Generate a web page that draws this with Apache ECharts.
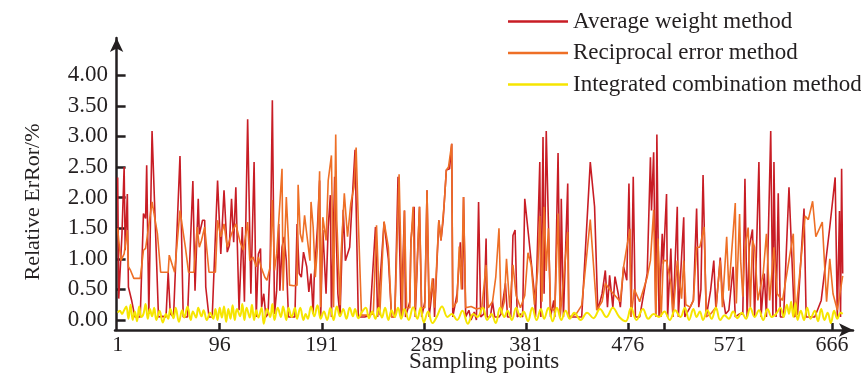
<!DOCTYPE html>
<html>
<head>
<meta charset="utf-8">
<script src="https://cdn.jsdelivr.net/npm/echarts@6.0.0/dist/echarts.min.js"></script>
<style>
  html, body { margin: 0; padding: 0; background: #fff; }
  #chart-container { width: 861px; height: 373px; }
</style>
</head>
<body>
<div id="chart-container"></div>
<script>
  // tick labels and tick marks
  var xTickLabels = [1, 96, 191, 289, 381, 476, 571, 666];
  var xTickMarks = [96, 191, 286, 381, 476, 510, 666];
  var yTickLabels = [0, 0.5, 1, 1.5, 2, 2.5, 3, 3.5, 4];

  var seriesNames = ['Average weight method', 'Reciprocal error method', 'Integrated combination method'];

  // [sampling point, relative error %]
  var averageWeight = [
    [1, 2.33], [2, 0.35], [5, 1.41], [7, 2.5], [8, 1.14], [10, 2.06], [11, 0.54], [14, 0.32], [17, 0.05], [22, 0.05],
    [25, 1.74], [27, 1.66], [28, 2.53], [30, 0.1], [33, 3.09], [39, 0.05], [43, 0.06], [46, 0.05], [48, 0.78], [50, 0.1],
    [53, 0.05], [59, 2.68], [62, 0.05], [66, 0.05], [71, 2.27], [73, 0.48], [76, 1.98], [77, 1.4], [80, 1.63], [82, 1.63],
    [83, 0.54], [86, 0.05], [89, 0.05], [94, 2.28], [97, 1.08], [100, 2.12], [103, 1.11], [105, 1.22], [107, 1.98], [109, 1.27],
    [111, 2.17], [114, 0.16], [117, 1.52], [119, 0.3], [122, 3.28], [125, 0.43], [128, 2.58], [130, 0.05], [132, 1.08],
    [134, 1.17], [135, 0.21], [137, 0.43], [139, 0.05], [141, 0.1], [143, 0.97], [145, 3.59], [147, 0.1], [149, 0.48], [151, 1.57],
    [152, 0.48], [154, 1.19], [156, 1.36], [158, 0.97], [160, 0.05], [166, 0.05], [168, 1.57], [170, 0.76], [172, 0.7], [174, 1.11],
    [177, 0.87], [179, 0.46], [181, 0.76], [183, 0.1], [184, 0.7], [187, 1.52], [189, 2.28], [190, 0.05], [192, 1.47], [195, 0.43],
    [197, 1.52], [199, 2.04], [200, 0.05], [203, 2.34], [206, 0.43], [208, 0.05], [211, 1.8], [213, 0.97], [217, 1.19], [220, 2.17],
    [222, 2.78], [225, 0.05], [231, 0.05], [236, 0.08], [241, 1.52], [243, 0.05], [249, 1.6], [253, 1.0], [256, 0.05], [259, 0.05],
    [262, 2.34], [265, 0.05], [268, 1.79], [269, 0.05], [273, 0.3], [274, 1.3], [275, 1.3], [277, 1.85], [278, 0.05], [282, 1.85],
    [284, 0.05], [287, 0.3], [289, 2.12], [291, 0.05], [295, 0.68], [296, 0.05], [300, 1.63], [302, 1.3], [304, 1.63], [307, 2.45],
    [310, 2.47], [312, 2.88], [313, 0.05], [317, 0.43], [320, 1.27], [322, 0.5], [323, 2.01], [325, 0.05], [328, 0.16], [330, 0.0],
    [333, 0.13], [335, 0.0], [337, 1.93], [339, 0.05], [342, 0.1], [344, 1.33], [345, 0.05], [348, 0.05], [350, 0.3], [352, 0.05],
    [356, 0.05], [358, 0.1], [362, 0.6], [364, 0.05], [367, 0.05], [369, 1.38], [371, 1.47], [373, 0.05], [376, 0.1], [378, 0.05],
    [380, 1.98], [384, 1.3], [389, 0.43], [390, 0.05], [394, 2.58], [395, 0.05], [397, 2.99], [398, 0.43], [400, 3.09], [402, 1.6],
    [404, 0.05], [407, 0.32], [408, 0.05], [411, 2.73], [413, 0.05], [414, 1.98], [416, 0.05], [420, 2.23], [421, 0.05], [428, 0.05],
    [433, 0.05], [441, 2.58], [445, 1.85], [448, 0.16], [452, 0.43], [455, 0.81], [457, 0.21], [459, 0.73], [462, 0.21], [464, 0.71],
    [467, 0.43], [469, 0.21], [472, 0.87], [475, 0.65], [477, 2.23], [479, 0.05], [481, 2.34], [483, 0.05], [487, 0.05], [494, 0.76],
    [497, 2.66], [498, 1.79], [500, 2.74], [502, 0.05], [503, 3.03], [505, 0.05], [508, 1.41], [509, 0.92], [512, 2.06], [513, 0.05],
    [516, 1.17], [518, 0.05], [522, 1.85], [523, 0.05], [526, 1.03], [528, 1.68], [529, 0.05], [534, 0.21], [537, 0.32], [540, 1.82],
    [542, 0.21], [544, 0.5], [546, 2.37], [549, 0.05], [553, 0.48], [556, 0.97], [558, 0.16], [562, 1.02], [564, 0.43], [567, 0.1],
    [570, 0.16], [574, 0.87], [576, 0.05], [580, 0.1], [583, 0.1], [585, 2.31], [587, 0.05], [589, 1.19], [592, 1.48], [594, 0.05],
    [598, 2.58], [600, 0.05], [603, 0.76], [605, 0.05], [609, 3.09], [611, 0.05], [612, 2.58], [614, 0.05], [616, 2.07], [618, 0.05],
    [621, 0.05], [626, 2.17], [631, 0.05], [634, 0.1], [640, 1.82], [642, 0.05], [650, 0.05], [656, 0.32], [664, 1.52], [669, 2.33],
    [671, 0.05], [673, 1.78], [674, 0.05], [675, 2.47], [676, 0.76]
  ];

  var reciprocalError = [
    [1, 1.5], [2, 1.3], [4, 0.97], [7, 1.08], [10, 1.47], [11, 0.87], [13, 0.81], [16, 0.68], [22, 0.68], [25, 1.14],
    [27, 1.17], [28, 1.14], [33, 1.93], [38, 1.41], [41, 0.78], [48, 0.78], [49, 1.06], [52, 0.89], [54, 0.78], [59, 1.79],
    [64, 1.19], [67, 0.78], [72, 0.78], [75, 1.52], [77, 1.19], [79, 1.3], [82, 1.52], [86, 0.78], [92, 0.78], [94, 1.63],
    [97, 1.36], [100, 1.57], [103, 1.19], [105, 1.3], [107, 1.41], [111, 1.57], [115, 1.27], [118, 1.14], [122, 1.6], [124, 0.97],
    [127, 1.03], [130, 0.87], [132, 1.03], [135, 0.84], [138, 0.7], [140, 0.65], [143, 0.87], [145, 1.96], [147, 0.81], [149, 1.08],
    [151, 1.63], [154, 2.47], [155, 0.48], [158, 2.01], [160, 1.3], [161, 0.57], [165, 0.56], [168, 0.57], [169, 2.21], [171, 1.41],
    [173, 1.27], [175, 1.71], [177, 1.41], [180, 0.97], [181, 1.93], [183, 1.52], [185, 0.7], [187, 1.19], [189, 2.43], [190, 0.21],
    [192, 1.68], [195, 1.3], [197, 2.28], [200, 2.69], [202, 0.21], [204, 3.03], [205, 1.63], [208, 0.24], [209, 1.08], [212, 2.07],
    [215, 1.36], [218, 1.9], [221, 2.17], [223, 2.82], [225, 1.63], [228, 0.08], [234, 0.08], [239, 0.1], [242, 1.55], [243, 1.57],
    [245, 0.08], [249, 1.61], [253, 1.19], [256, 0.05], [259, 0.05], [263, 2.38], [266, 0.05], [268, 1.79], [270, 0.2], [273, 0.2],
    [274, 1.25], [276, 1.85], [278, 0.2], [282, 1.85], [284, 0.2], [287, 0.2], [289, 2.12], [291, 0.2], [294, 0.68], [296, 0.2],
    [300, 1.63], [302, 1.3], [305, 1.9], [307, 2.45], [309, 2.5], [312, 2.88], [313, 0.2], [317, 0.3], [319, 1.2], [321, 0.5],
    [323, 2.01], [325, 0.2], [330, 0.22], [335, 0.18], [340, 0.2], [344, 0.9], [346, 0.2], [350, 0.3], [353, 0.7], [356, 1.5],
    [358, 0.1], [361, 0.3], [363, 1.0], [366, 0.2], [369, 0.9], [372, 0.4], [376, 0.2], [380, 0.4], [383, 1.1], [386, 0.9],
    [389, 0.25], [392, 0.8], [394, 1.7], [396, 0.3], [398, 1.85], [400, 0.8], [402, 1.5], [404, 0.2], [408, 0.15], [411, 1.74],
    [413, 0.05], [420, 1.44], [421, 0.05], [428, 0.1], [433, 0.24], [441, 1.64], [447, 0.16], [452, 0.3], [455, 0.6], [459, 0.5],
    [464, 0.4], [469, 0.3], [472, 0.87], [475, 1.19], [478, 1.49], [479, 0.05], [482, 0.5], [487, 0.3], [494, 0.7], [497, 0.97],
    [500, 1.8], [502, 0.05], [504, 1.33], [507, 0.05], [509, 0.97], [512, 0.97], [516, 0.6], [518, 0.05], [522, 0.97], [526, 0.35],
    [528, 0.97], [530, 0.25], [534, 0.21], [537, 0.32], [540, 1.19], [543, 1.19], [547, 1.52], [549, 0.05], [553, 0.1], [558, 0.21],
    [562, 0.97], [564, 0.21], [568, 1.36], [570, 0.48], [576, 1.91], [577, 0.27], [580, 1.73], [581, 0.97], [583, 0.38], [585, 1.19],
    [588, 1.51], [590, 0.21], [592, 1.3], [594, 1.19], [597, 0.32], [602, 0.76], [605, 1.41], [608, 0.32], [612, 1.19], [615, 0.43],
    [620, 0.32], [630, 1.41], [632, 0.05], [636, 0.76], [641, 1.7], [644, 1.64], [648, 1.94], [651, 1.36], [657, 1.6], [661, 0.3],
    [664, 1.0], [667, 0.43], [671, 0.16], [676, 0.72]
  ];

  var integratedCombination = [
    [1, 0.12], [3, 0.15], [5, 0.1], [7, 0.16], [9, 0.22], [11, 0.02], [13, 0.25], [15, 0.0], [17, 0.14], [19, -0.02],
    [21, 0.22], [23, 0.05], [25, 0.1], [27, 0.26], [29, 0.02], [31, 0.18], [33, 0.06], [35, 0.2], [37, 0.0], [40, 0.15],
    [43, -0.04], [46, 0.1], [48, 0.02], [50, 0.18], [53, 0.03], [55, 0.2], [58, -0.03], [61, 0.16], [63, 0.04], [66, 0.22],
    [69, 0.0], [71, 0.14], [74, 0.04], [76, 0.2], [79, 0.06], [81, 0.16], [84, 0.0], [87, 0.12], [90, 0.02], [92, 0.18],
    [94, 0.0], [96, 0.2], [98, 0.04], [100, 0.22], [102, -0.03], [104, 0.18], [106, 0.02], [108, 0.24], [110, 0.0], [112, 0.18],
    [115, 0.06], [117, 0.26], [119, 0.0], [121, 0.2], [124, 0.04], [126, 0.25], [128, 0.0], [130, 0.16], [132, 0.04], [135, 0.2],
    [137, -0.06], [140, 0.18], [143, 0.05], [145, 0.26], [147, 0.0], [150, 0.2], [153, 0.05], [155, 0.22], [158, 0.0], [160, 0.2],
    [163, 0.05], [166, 0.2], [168, 0.02], [171, 0.2], [174, 0.0], [176, 0.1], [178, 0.02], [181, 0.22], [184, 0.06], [187, 0.24],
    [190, 0.02], [193, 0.14], [196, 0.0], [199, 0.2], [202, 0.0], [205, 0.22], [208, 0.06], [211, 0.18], [214, 0.02], [217, 0.2],
    [220, 0.06], [222, 0.18], [225, 0.03], [228, 0.12], [232, 0.2], [235, 0.03], [238, 0.14], [241, 0.02], [244, 0.2], [247, 0.04],
    [250, 0.2], [253, 0.0], [256, 0.16], [259, 0.05], [262, 0.2], [265, 0.02], [268, 0.18], [272, 0.0], [276, 0.21], [280, 0.02],
    [283, 0.2], [286, -0.04], [290, 0.14], [294, -0.05], [298, 0.05], [303, 0.22], [308, 0.05], [312, 0.1], [317, 0.0], [322, 0.15],
    [327, -0.06], [332, 0.1], [336, 0.05], [341, 0.2], [345, 0.0], [349, 0.1], [353, -0.05], [357, 0.2], [361, 0.05], [364, 0.15],
    [368, 0.0], [372, 0.2], [376, 0.05], [379, 0.14], [383, -0.02], [387, 0.2], [391, 0.0], [395, 0.18], [398, 0.02], [402, 0.2],
    [406, -0.02], [410, 0.2], [414, 0.0], [418, 0.15], [422, 0.02], [426, 0.12], [432, 0.0], [438, 0.12], [444, 0.03], [450, 0.18],
    [456, 0.05], [462, 0.2], [468, 0.05], [474, -0.02], [479, 0.2], [484, 0.0], [490, 0.18], [495, 0.02], [500, 0.1], [505, 0.05],
    [510, 0.14], [515, 0.0], [520, 0.16], [525, 0.05], [529, 0.2], [533, 0.0], [537, 0.18], [540, 0.05], [543, 0.14], [546, 0.0],
    [550, 0.16], [554, 0.02], [558, 0.2], [562, 0.0], [566, 0.08], [570, 0.02], [574, 0.14], [578, 0.03], [582, 0.12], [586, 0.02],
    [590, 0.2], [594, 0.05], [598, 0.16], [602, 0.0], [606, 0.18], [610, 0.05], [614, 0.1], [618, 0.2], [621, 0.05], [624, 0.25],
    [626, 0.1], [628, 0.3], [630, 0.05], [632, 0.28], [634, 0.0], [637, 0.15], [640, 0.0], [643, 0.2], [646, 0.02], [650, 0.15],
    [653, -0.02], [656, 0.18], [659, 0.0], [662, 0.12], [665, -0.05], [668, 0.15], [671, 0.02], [674, 0.12], [676, 0.1]
  ];

  var ink = '#231f20';
  var font = 'Liberation Serif';

  var dom = document.getElementById('chart-container');
  var myChart = echarts.init(dom, null, { renderer: 'canvas' });

  var option = {
    animation: false,
    backgroundColor: '#fff',
    color: ['#c81d25', '#ee6f26', '#f6e500'],
    legend: {
      orient: 'vertical',
      left: 508,
      top: 10,
      padding: 0,
      itemWidth: 60,
      itemHeight: 2.5,
      itemGap: 8.5,
      icon: 'rect',
      textStyle: { fontFamily: font, fontSize: 23, lineHeight: 22, color: ink },
      data: seriesNames
    },
    grid: { left: 115, right: 8, top: 38, bottom: 43, outerBoundsMode: 'none' },
    xAxis: {
      type: 'value',
      min: -1.5,
      max: 685.6,
      splitLine: { show: false },
      axisLine: {
        onZero: false,
        symbol: ['none', 'arrow'],
        symbolSize: [10, 14],
        lineStyle: { color: ink, width: 2.5 }
      },
      axisTick: {
        inside: true,
        length: 7,
        customValues: xTickMarks,
        lineStyle: { color: ink, width: 2.5 }
      },
      axisLabel: {
        customValues: xTickLabels,
        margin: 4,
        fontFamily: font,
        fontSize: 22,
        color: ink
      },
      name: 'Sampling points',
      nameLocation: 'middle',
      nameGap: 20,
      nameMoveOverlap: false,
      nameTextStyle: { fontFamily: font, fontSize: 23, color: ink }
    },
    yAxis: {
      type: 'value',
      min: -0.163,
      max: 4.608,
      splitLine: { show: false },
      axisLine: {
        symbol: ['none', 'arrow'],
        symbolSize: [10, 14],
        lineStyle: { color: ink, width: 2.5 }
      },
      axisTick: {
        inside: true,
        length: 9,
        customValues: yTickLabels,
        lineStyle: { color: ink, width: 2.5 }
      },
      axisLabel: {
        customValues: yTickLabels,
        margin: 7,
        fontFamily: font,
        fontSize: 23,
        color: ink,
        formatter: function (val) {
          return val.toFixed(2);
        }
      }
    },
    graphic: [{
      type: 'text',
      x: 33,
      y: 202,
      rotation: Math.PI / 2,
      style: {
        text: 'Relative ErRor/%',
        font: '22px "Liberation Serif"',
        fill: ink,
        align: 'center',
        verticalAlign: 'middle'
      }
    }],
    series: [
      {
        name: seriesNames[0],
        type: 'line',
        data: averageWeight,
        symbol: 'none',
        lineStyle: { width: 1.6 }
      },
      {
        name: seriesNames[1],
        type: 'line',
        data: reciprocalError,
        symbol: 'none',
        lineStyle: { width: 1.6 }
      },
      {
        name: seriesNames[2],
        type: 'line',
        data: integratedCombination,
        symbol: 'none',
        smooth: 0.4,
        lineStyle: { width: 2 }
      }
    ]
  };

  myChart.setOption(option);
</script>
</body>
</html>
